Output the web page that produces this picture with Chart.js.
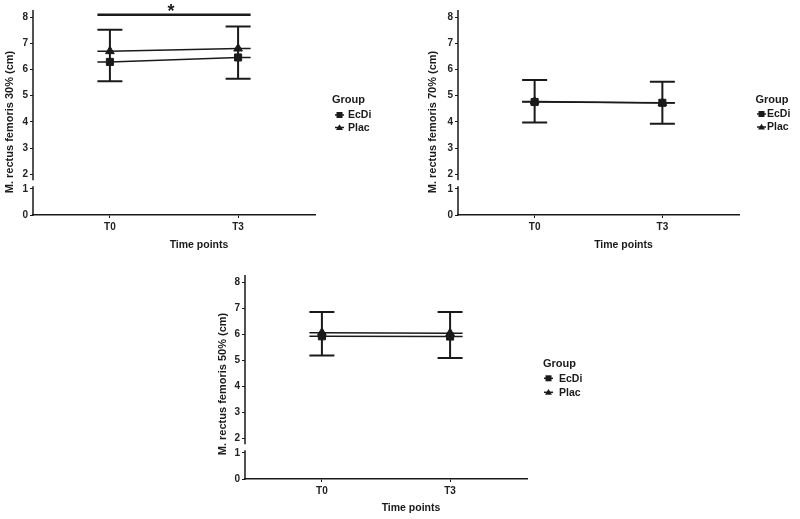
<!DOCTYPE html>
<html><head><meta charset="utf-8">
<script src="https://cdn.jsdelivr.net/npm/chart.js@4"></script>
<style>
html,body{margin:0;padding:0;background:#fff;}
body{width:800px;height:519px;position:relative;overflow:hidden;}
.panel{position:absolute;}
canvas{display:block;}
</style></head><body>
<div class="panel" style="left:0;top:0;width:400px;height:260px"><canvas id="c30" width="400" height="260"></canvas></div>
<div class="panel" style="left:400px;top:0;width:400px;height:260px"><canvas id="c70" width="400" height="260"></canvas></div>
<div class="panel" style="left:200px;top:260px;width:400px;height:259px"><canvas id="c50" width="400" height="259"></canvas></div>
<script>
// ---- data ----
const timePoints = ['T0', 'T3'];
const groupNames = ['EcDi', 'Plac'];
const yTicksUpper = [2, 3, 4, 5, 6, 7, 8];
const yTicksLower = [0, 1];
const legendTitle = 'Group';
const xAxisTitle = 'Time points';

// M. rectus femoris 30%
const rf30Title = 'M. rectus femoris 30% (cm)';
const rf30EcDi = [6.29, 6.46];
const rf30Plac = [6.70, 6.80];
const rf30ErrLow = [5.55, 5.65];
const rf30ErrHigh = [7.52, 7.64];
const rf30Sig = 8.09;
const rf30SigLabel = '*';

// M. rectus femoris 70%
const rf70Title = 'M. rectus femoris 70% (cm)';
const rf70EcDi = [4.76, 4.73];
const rf70Plac = [4.78, 4.72];
const rf70ErrLow = [3.98, 3.93];
const rf70ErrHigh = [5.60, 5.53];

// M. rectus femoris 50%
const rf50Title = 'M. rectus femoris 50% (cm)';
const rf50EcDi = [5.92, 5.91];
const rf50Plac = [6.06, 6.04];
const rf50ErrLow = [5.18, 5.09];
const rf50ErrHigh = [6.85, 6.85];

// ---- drawing ----
const INK = '#1a1a1a';
const FONT = '"Liberation Sans", Arial, Helvetica, sans-serif';
const UPPER_MIN = 1.78, UPPER_MAX = 8.27, LOWER_MIN = 0, LOWER_MAX = 1.33, BREAK_AT = 1.1;

function drawMarker(ctx, style, cx, cy, r) {
  ctx.beginPath();
  if (style === 'rect') {
    ctx.rect(cx - r, cy - r, 2 * r, 2 * r);
  } else {
    ctx.moveTo(cx, cy - r * 1.1);
    ctx.lineTo(cx + r * 1.15, cy + r * 0.8);
    ctx.lineTo(cx - r * 1.15, cy + r * 0.8);
    ctx.closePath();
  }
  ctx.fill();
}

const deco = {
  id: 'deco',
  beforeDatasetsDraw(chart, args, o) {
    const ctx = chart.ctx, xs = chart.scales.x, ys = chart.scales.yTop;
    const cap = o.capHalf;
    ctx.save();
    ctx.strokeStyle = INK;
    ctx.lineWidth = 2;
    o.errLow.forEach((lo, i) => {
      const px = xs.getPixelForValue(i);
      const yl = ys.getPixelForValue(lo), yh = ys.getPixelForValue(o.errHigh[i]);
      ctx.beginPath();
      ctx.moveTo(px, yl); ctx.lineTo(px, yh);
      ctx.moveTo(px - cap, yl); ctx.lineTo(px + cap, yl);
      ctx.moveTo(px - cap, yh); ctx.lineTo(px + cap, yh);
      ctx.stroke();
    });
    // horizontal stubs of the group lines out to the cap edges
    ctx.lineWidth = 1.5;
    chart.data.datasets.forEach(ds => {
      const first = ds.data[0], last = ds.data[ds.data.length - 1];
      const p0 = xs.getPixelForValue(first.x), p1 = xs.getPixelForValue(last.x);
      const y0 = ys.getPixelForValue(first.y), y1 = ys.getPixelForValue(last.y);
      ctx.beginPath();
      ctx.moveTo(p0 - cap, y0); ctx.lineTo(p0, y0);
      ctx.moveTo(p1, y1); ctx.lineTo(p1 + cap, y1);
      ctx.stroke();
    });
    // significance bracket
    if (o.sig != null) {
      const p0 = xs.getPixelForValue(0) - cap, p1 = xs.getPixelForValue(timePoints.length - 1) + cap;
      const y = ys.getPixelForValue(o.sig);
      ctx.lineWidth = 2.5;
      ctx.beginPath(); ctx.moveTo(p0, y); ctx.lineTo(p1, y); ctx.stroke();
      ctx.fillStyle = INK;
      ctx.font = 'bold 18px ' + FONT;
      ctx.textAlign = 'center';
      ctx.textBaseline = 'alphabetic';
      ctx.fillText(o.sigLabel, (p0 + p1) / 2 - 3, y + 2);
    }
    ctx.restore();
  },
  afterDraw(chart, args, o) {
    const ctx = chart.ctx, ca = chart.chartArea;
    const yt = chart.scales.yTop, yb = chart.scales.yBot;
    ctx.save();
    // broken y axis
    ctx.strokeStyle = INK; ctx.lineWidth = 1.5;
    const ax = ca.left;
    ctx.beginPath();
    ctx.moveTo(ax, yt.top); ctx.lineTo(ax, yt.bottom);
    ctx.moveTo(ax, yb.getPixelForValue(BREAK_AT)); ctx.lineTo(ax, yb.bottom + 0.75);
    ctx.stroke();
    // titles
    ctx.fillStyle = INK;
    ctx.font = 'bold 11px ' + FONT;
    ctx.textAlign = 'center'; ctx.textBaseline = 'middle';
    ctx.save();
    ctx.translate(o.yTitleX, o.yTitleY);
    ctx.rotate(-Math.PI / 2);
    ctx.fillText(o.yTitle, 0, 0);
    ctx.restore();
    ctx.font = 'bold 10.5px ' + FONT;
    ctx.fillText(xAxisTitle, (ca.left + ca.right) / 2 + o.xTitleShift, o.xTitleY);
    // legend
    const L = o.legend;
    ctx.textAlign = 'left';
    ctx.font = 'bold 11px ' + FONT;
    ctx.fillText(legendTitle, L.x, L.titleY);
    ctx.font = 'bold 10.5px ' + FONT;
    chart.data.datasets.forEach((ds, i) => {
      const cy = L.rows[i];
      ctx.strokeStyle = INK; ctx.lineWidth = 1.5;
      ctx.beginPath(); ctx.moveTo(L.markerX - 4.5, cy); ctx.lineTo(L.markerX + 4.5, cy); ctx.stroke();
      ctx.fillStyle = INK;
      drawMarker(ctx, ds.pointStyle, L.markerX, cy, 3);
      ctx.fillText(ds.label, L.textX, cy + 0.5);
    });
    ctx.restore();
  }
};

function makePanel(id, title, ecdi, plac, errLow, errHigh, layout) {
  const tickFont = { family: FONT, size: 10, weight: 'bold' };
  const yBase = (ticksArr) => ({
    type: 'linear', position: 'left', stack: 'yaxis',
    border: { display: false },
    grid: { drawOnChartArea: false, drawTicks: true, tickLength: 3, color: INK, lineWidth: 1 },
    ticks: { font: tickFont, color: '#222', padding: 2, autoSkip: false },
    afterBuildTicks: (s) => { s.ticks = ticksArr.map(v => ({ value: v })); },
    afterFit: (s) => { s.width = layout.yWidth; }
  });
  const mkData = (arr) => arr.map((v, i) => ({ x: i, y: v }));
  new Chart(document.getElementById(id), {
    type: 'line',
    data: {
      datasets: [
        { label: groupNames[0], data: mkData(ecdi), yAxisID: 'yTop', pointStyle: 'rect',
          borderColor: INK, borderWidth: 1.5, backgroundColor: INK,
          pointBackgroundColor: INK, pointBorderColor: INK, pointBorderWidth: 1, pointRadius: 5, tension: 0 },
        { label: groupNames[1], data: mkData(plac), yAxisID: 'yTop', pointStyle: 'triangle',
          borderColor: INK, borderWidth: 1.5, backgroundColor: INK,
          pointBackgroundColor: INK, pointBorderColor: INK, pointBorderWidth: 1, pointRadius: 5, tension: 0 }
      ]
    },
    options: {
      responsive: false, animation: false, devicePixelRatio: 1,
      layout: { padding: { left: 0, top: layout.top, right: layout.right, bottom: 0 } },
      plugins: {
        legend: { display: false }, tooltip: { enabled: false },
        deco: Object.assign({ yTitle: title, errLow, errHigh, capHalf: 12.5 }, layout.deco)
      },
      scales: {
        x: {
          type: 'linear', min: -0.6, max: timePoints.length - 0.4,
          border: { display: true, color: INK, width: 1.5 },
          grid: { drawOnChartArea: false, drawTicks: true, tickLength: 3, color: INK },
          ticks: { font: tickFont, color: '#222', padding: 3, callback: (v) => timePoints[v] ?? '' },
          afterBuildTicks: (s) => { s.ticks = timePoints.map((_, i) => ({ value: i })); },
          afterFit: (s) => { s.height = layout.xHeight; }
        },
        yBot: Object.assign(yBase(yTicksLower), { min: LOWER_MIN, max: LOWER_MAX, stackWeight: LOWER_MAX - LOWER_MIN, weight: 0 }),
        yTop: Object.assign(yBase(yTicksUpper), { min: UPPER_MIN, max: UPPER_MAX, stackWeight: UPPER_MAX - UPPER_MIN, weight: 1 })
      }
    },
    plugins: [deco]
  });
}

makePanel('c30', rf30Title, rf30EcDi, rf30Plac, rf30ErrLow, rf30ErrHigh, {
  top: 10, right: 85, yWidth: 33, xHeight: 45,
  deco: { sig: rf30Sig, sigLabel: rf30SigLabel, yTitleX: 10, yTitleY: 122, xTitleY: 245, xTitleShift: 25,
    legend: { x: 332, titleY: 100, markerX: 339.5, textX: 348, rows: [115, 127.5] } }
});
makePanel('c70', rf70Title, rf70EcDi, rf70Plac, rf70ErrLow, rf70ErrHigh, {
  top: 10, right: 61, yWidth: 58, xHeight: 45,
  deco: { sig: null, yTitleX: 33, yTitleY: 122, xTitleY: 245.5, xTitleShift: 25,
    legend: { x: 355.5, titleY: 99.5, markerX: 361.5, textX: 367, rows: [114, 127] } }
});
makePanel('c50', rf50Title, rf50EcDi, rf50Plac, rf50ErrLow, rf50ErrHigh, {
  top: 15, right: 73, yWidth: 45, xHeight: 40,
  deco: { sig: null, yTitleX: 23, yTitleY: 124, xTitleY: 248.5, xTitleShift: 25,
    legend: { x: 343, titleY: 104.3, markerX: 348.5, textX: 359, rows: [118.3, 132.3] } }
});
</script>
</body></html>
